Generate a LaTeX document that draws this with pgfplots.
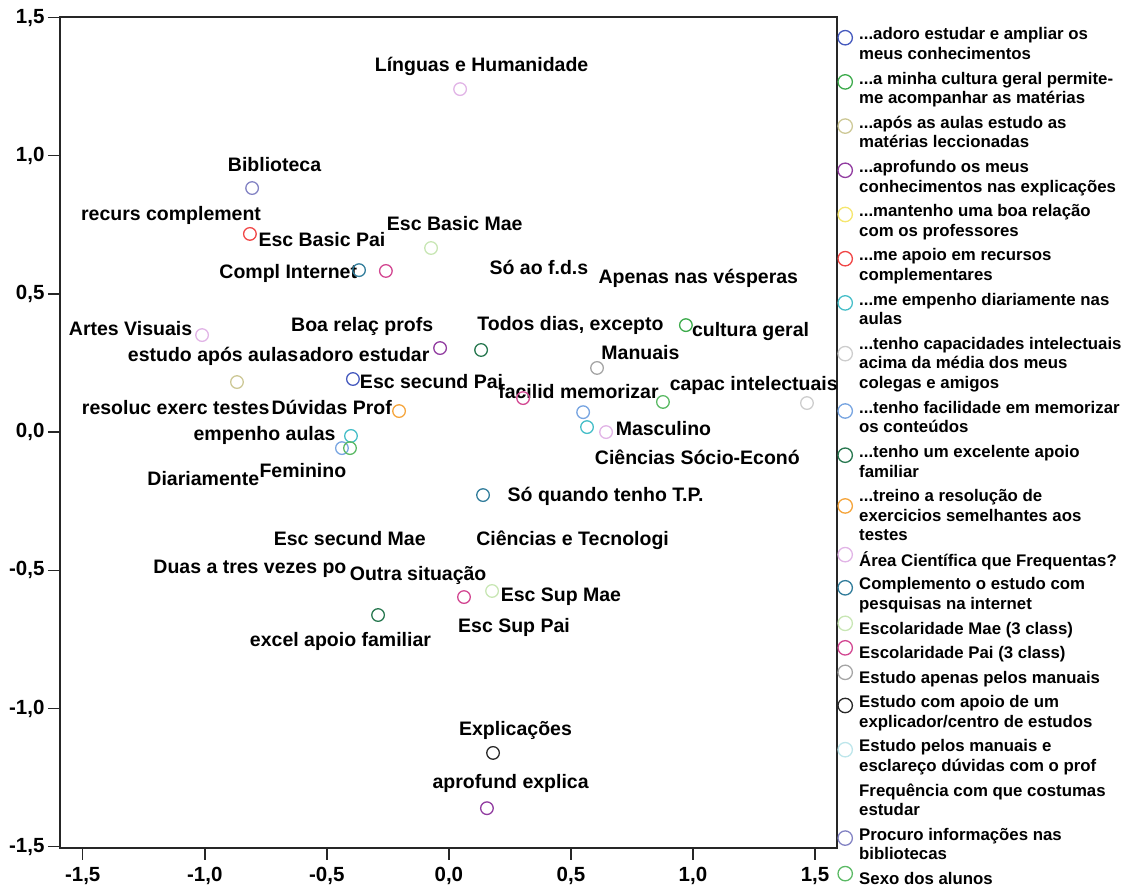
\documentclass[border=0pt]{standalone}
\usepackage{fontspec}
\setmainfont{Liberation Sans}
\usepackage{pgfplots}
\pgfplotsset{compat=1.18}
\definecolor{cAdoro}{RGB}{70,90,190}
\definecolor{cCultura}{RGB}{60,170,75}
\definecolor{cApos}{RGB}{205,200,150}
\definecolor{cAprof}{RGB}{145,60,160}
\definecolor{cMant}{RGB}{245,230,110}
\definecolor{cRecur}{RGB}{240,70,70}
\definecolor{cEmpen}{RGB}{70,190,200}
\definecolor{cCapac}{RGB}{205,205,205}
\definecolor{cFacil}{RGB}{120,165,225}
\definecolor{cApoio}{RGB}{40,120,80}
\definecolor{cTreino}{RGB}{245,165,60}
\definecolor{cArea}{RGB}{225,180,230}
\definecolor{cCompl}{RGB}{50,125,155}
\definecolor{cMae}{RGB}{200,230,180}
\definecolor{cPai}{RGB}{210,70,145}
\definecolor{cManuais}{RGB}{165,165,165}
\definecolor{cExplic}{RGB}{40,40,40}
\definecolor{cDuvid}{RGB}{190,230,235}
\definecolor{cBiblio}{RGB}{130,130,195}
\definecolor{cSexo}{RGB}{90,185,100}
% #1 colour, #2 circle shift, #3 half height of the legend row
\pgfplotsset{
  pt/.style n args={3}{only marks, mark=o, mark size=6.3pt, line width=1.3pt, color=#1,
    legend image code/.code={\path[draw=none,fill=none] (-7.5pt,-#3pt) rectangle (7.5pt,#3pt);
      \draw[##1, overlay, mark=none, fill=none] (0pt,#2pt) circle[radius=7.2pt];}},
  one/.style={pt={#1}{4.7}{12.25}},
  two/.style={pt={#1}{5.9}{22.1}},
  three/.style={pt={#1}{9.2}{31.95}},
}
\tikzset{lab/.style={anchor=base, inner sep=0pt, font=\bfseries\fontsize{19.5}{22}\selectfont}}
\newcommand{\s}{\strut}
\begin{document}
\begin{tikzpicture}[x=1pt,y=1pt]
\begin{axis}[
  at={(0,0)}, anchor=south west,
  scale only axis, width=777pt, height=831pt,
  xmin=-1.593, xmax=1.590, ymin=-1.505, ymax=1.502,
  axis line style={line width=1.8pt, black!85},
  xtick={-1.5,-1,-0.5,0,0.5,1,1.5},
  ytick={-1.5,-1,-0.5,0,0.5,1,1.5},
  xtick pos=left, ytick pos=left,
  tick align=outside, major tick length=12pt,
  tick style={line width=1.5pt, black!85},
  ticklabel style={font=\bfseries\fontsize{20.5}{24}\selectfont},
  xticklabel style={yshift=-4pt},
  /pgf/number format/.cd, fixed, fixed zerofill, precision=1, use comma, assume math mode=true,
  /pgfplots/.cd,
  clip=false,
  legend cell align=left,
  legend style={at={(rel axis cs:1,1)}, anchor=north west, xshift=0.5pt, yshift=-4.3pt,
    draw=none, fill=none, inner sep=0pt, column sep=6.5pt, row sep=0pt,
    font=\bfseries\fontsize{16.8}{19.7}\selectfont,
    nodes={inner sep=0pt, align=left}},
]
\addplot[two=cAdoro] coordinates {(-0.393,0.192)};
\addlegendentry{\s...adoro estudar e ampliar os\\\s meus conhecimentos}
\addplot[two=cCultura] coordinates {(0.971,0.387)};
\addlegendentry{\s...a minha cultura geral permite-\\\s me acompanhar as matérias}
\addplot[two=cApos] coordinates {(-0.868,0.181)};
\addlegendentry{\s...após as aulas estudo as\\\s matérias leccionadas}
\addplot[two=cAprof] coordinates {(-0.036,0.304) (0.156,-1.361)};
\addlegendentry{\s...aprofundo os meus\\\s conhecimentos nas explicações}
\addlegendimage{two=cMant}
\addlegendentry{\s...mantenho uma boa relação\\\s com os professores}
\addplot[two=cRecur] coordinates {(-0.815,0.717)};
\addlegendentry{\s...me apoio em recursos\\\s complementares}
\addplot[two=cEmpen] coordinates {(-0.401,-0.014) (0.566,0.018)};
\addlegendentry{\s...me empenho diariamente nas\\\s aulas}
\addplot[three=cCapac] coordinates {(1.467,0.105)};
\addlegendentry{\s...tenho capacidades intelectuais\\\s acima da média dos meus\\\s colegas e amigos}
\addplot[two=cFacil] coordinates {(0.550,0.072) (-0.438,-0.058)};
\addlegendentry{\s...tenho facilidade em memorizar\\\s os conteúdos}
\addplot[two=cApoio] coordinates {(0.132,0.297) (-0.290,-0.662)};
\addlegendentry{\s...tenho um excelente apoio\\\s familiar}
\addplot[three=cTreino] coordinates {(-0.204,0.076)};
\addlegendentry{\s...treino a resolução de\\\s exercicios semelhantes aos\\\s testes}
\addplot[one=cArea] coordinates {(0.046,1.241) (-1.011,0.351) (0.644,0.000)};
\addlegendentry{\s Área Científica que Frequentas?}
\addplot[two=cCompl] coordinates {(-0.368,0.586) (0.140,-0.228)};
\addlegendentry{\s Complemento o estudo com\\\s pesquisas na internet}
\addplot[one=cMae] coordinates {(-0.073,0.666) (0.177,-0.575)};
\addlegendentry{\s Escolaridade Mae (3 class)}
\addplot[one=cPai] coordinates {(-0.258,0.583) (0.304,0.123) (0.062,-0.597)};
\addlegendentry{\s Escolaridade Pai (3 class)}
\addplot[one=cManuais] coordinates {(0.607,0.232)};
\addlegendentry{\s Estudo apenas pelos manuais}
\addplot[two=cExplic] coordinates {(0.181,-1.161)};
\addlegendentry{\s Estudo com apoio de um\\\s explicador/centro de estudos}
\addlegendimage{two=cDuvid}
\addlegendentry{\s Estudo pelos manuais e\\\s esclareço dúvidas com o prof}
\addlegendimage{two=white, draw opacity=0}
\addlegendentry{\s Frequência com que costumas\\\s estudar}
\addplot[two=cBiblio] coordinates {(-0.806,0.883)};
\addlegendentry{\s Procuro informações nas\\\s bibliotecas}
\addplot[one=cSexo] coordinates {(-0.405,-0.058) (0.877,0.109)};
\addlegendentry{\s Sexo dos alunos}

\node[lab] at (axis cs:0.134,1.305) {Línguas e Humanidade};
\node[lab] at (axis cs:-0.714,0.943) {Biblioteca};
\node[lab] at (axis cs:-1.138,0.764) {recurs complement};
\node[lab] at (axis cs:-0.520,0.673) {Esc Basic Pai};
\node[lab] at (axis cs:0.024,0.731) {Esc Basic Mae};
\node[lab] at (axis cs:-0.658,0.557) {Compl Internet};
\node[lab] at (axis cs:0.369,0.572) {Só ao f.d.s};
\node[lab] at (axis cs:1.022,0.539) {Apenas nas vésperas};
\node[lab] at (axis cs:-1.304,0.351) {Artes Visuais};
\node[lab] at (axis cs:-0.355,0.364) {Boa relaç profs};
\node[lab] at (axis cs:0.498,0.369) {Todos dias, excepto};
\node[lab] at (axis cs:1.236,0.345) {cultura geral};
\node[lab] at (axis cs:-0.966,0.257) {estudo após aulas};
\node[lab] at (axis cs:-0.346,0.257) {adoro estudar};
\node[lab] at (axis cs:0.785,0.261) {Manuais};
\node[lab] at (axis cs:-0.071,0.156) {Esc secund Pai};
\node[lab] at (axis cs:0.531,0.123) {facilid memorizar};
\node[lab] at (axis cs:1.249,0.152) {capac intelectuais};
\node[lab] at (axis cs:-1.119,0.065) {resoluc exerc testes};
\node[lab] at (axis cs:-0.480,0.065) {Dúvidas Prof};
\node[lab] at (axis cs:-0.755,-0.029) {empenho aulas};
\node[lab] at (axis cs:0.879,-0.011) {Masculino};
\node[lab] at (axis cs:-1.006,-0.192) {Diariamente};
\node[lab] at (axis cs:-0.598,-0.166) {Feminino};
\node[lab] at (axis cs:1.018,-0.119) {Ciências Sócio-Econó};
\node[lab] at (axis cs:0.642,-0.252) {Só quando tenho T.P.};
\node[lab] at (axis cs:-0.406,-0.409) {Esc secund Mae};
\node[lab] at (axis cs:0.507,-0.409) {Ciências e Tecnologi};
\node[lab] at (axis cs:-0.815,-0.510) {Duas a tres vezes po};
\node[lab] at (axis cs:-0.126,-0.536) {Outra situação};
\node[lab] at (axis cs:0.459,-0.614) {Esc Sup Mae};
\node[lab] at (axis cs:0.267,-0.727) {Esc Sup Pai};
\node[lab] at (axis cs:-0.444,-0.777) {excel apoio familiar};
\node[lab] at (axis cs:0.273,-1.097) {Explicações};
\node[lab] at (axis cs:0.253,-1.288) {aprofund explica};
\end{axis}
\pgfresetboundingbox
\path (-60pt,-40pt) rectangle (1068pt,848pt);
\end{tikzpicture}
\end{document}
